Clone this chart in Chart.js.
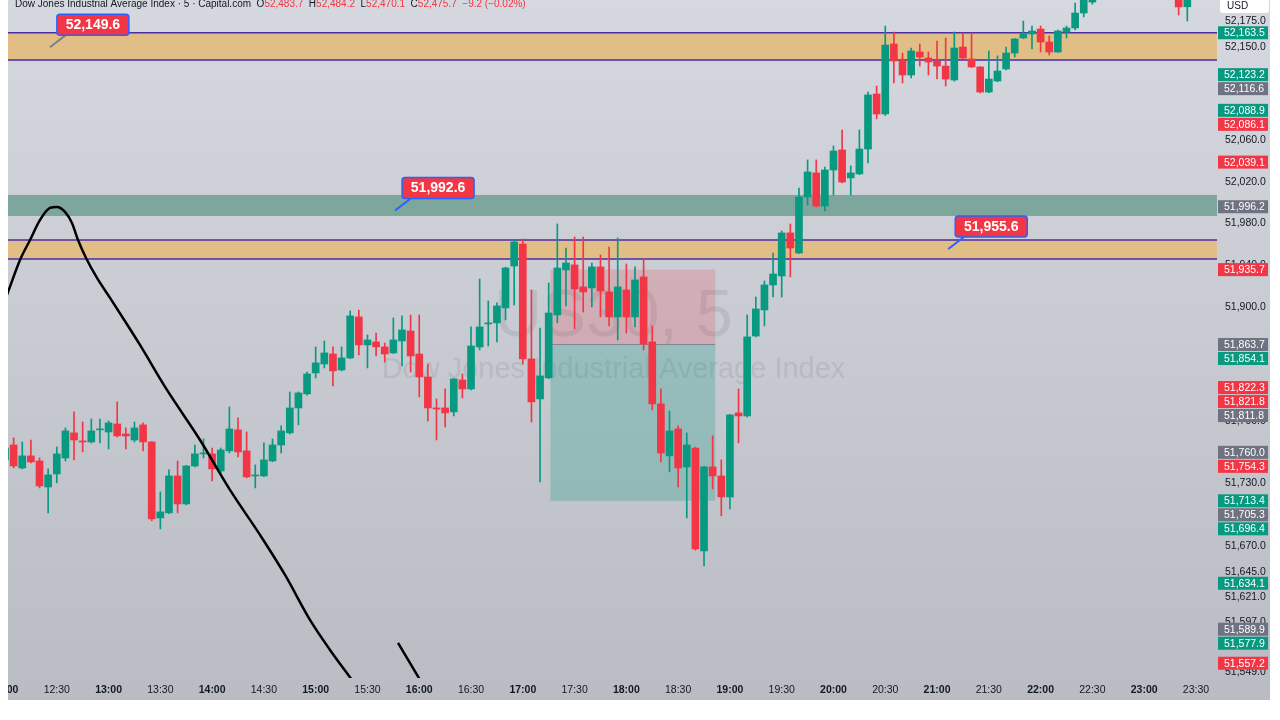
<!DOCTYPE html>
<html lang="en">
<head>
<meta charset="UTF-8">
<title>US30, 5 - Dow Jones Industrial Average Index</title>
<script src="https://cdn.jsdelivr.net/npm/chart.js@4.4.1/dist/chart.umd.min.js"></script>
<style>
  html, body { margin: 0; padding: 0; background: #fff; }
  #wrap { width: 1280px; height: 720px; position: relative; }
</style>
</head>
<body>
<div id="wrap"><canvas id="chart"></canvas></div>
<script>
// 5 minute candles, 12:00 .. 23:25
const opens = [
  51752.7, 51767.1, 51745.0, 51756.6, 51751.7, 51726.7, 51739.2, 51754.6, 51778.7, 51771.0,
  51770.0, 51781.6, 51779.6, 51787.3, 51777.7, 51771.9, 51786.4, 51770.0, 51696.9, 51701.8,
  51737.3, 51710.4, 51746.9, 51758.5, 51758.5, 51742.1, 51761.4, 51781.6, 51761.4, 51737.3,
  51737.3, 51751.7, 51767.1, 51778.7, 51802.7, 51816.2, 51836.4, 51845.0, 51854.6, 51839.2,
  51850.8, 51890.2, 51863.3, 51866.2, 51861.4, 51855.6, 51867.1, 51876.7, 51854.6, 51832.5,
  51802.7, 51802.7, 51798.9, 51829.6, 51821.0, 51861.4, 51883.5, 51884.5, 51898.9, 51939.2,
  51960.4, 51849.8, 51811.4, 51831.6, 51892.1, 51935.4, 51940.2, 51919.1, 51918.1, 51938.3,
  51914.2, 51890.2, 51916.2, 51890.2, 51928.7, 51866.2, 51806.6, 51756.6, 51782.5, 51746.0,
  51764.2, 51665.2, 51746.0, 51737.3, 51717.1, 51797.9, 51795.0, 51871.9, 51896.9, 51921.0,
  51929.6, 51971.0, 51951.7, 52005.6, 52028.7, 51996.9, 52031.5, 52050.8, 52023.9, 52027.7,
  52051.7, 52104.6, 52085.4, 52152.7, 52137.3, 52122.9, 52145.0, 52139.2, 52136.3, 52131.5,
  52118.1, 52149.8, 52138.3, 52130.6, 52106.5, 52117.1, 52128.7, 52144.0, 52158.5, 52162.3,
  52167.1, 52154.6, 52145.0, 52164.2, 52168.1, 52182.5, 52193.0, 52215.0, 52224.0, 52232.0,
  52226.0, 52230.0, 52238.0, 52230.0, 52222.0, 52218.0, 52215.0, 52188.5
];
const highs = [
  51771.9, 51773.9, 51770.0, 51771.9, 51754.6, 51744.1, 51765.2, 51783.5, 51798.9, 51789.2,
  51792.1, 51792.1, 51790.2, 51808.5, 51783.5, 51789.2, 51788.3, 51770.5, 51721.9, 51743.1,
  51751.7, 51747.5, 51767.1, 51772.9, 51764.2, 51764.2, 51803.7, 51793.1, 51779.6, 51747.9,
  51769.1, 51772.9, 51785.4, 51818.1, 51818.1, 51837.3, 51861.4, 51867.1, 51861.4, 51861.4,
  51896.0, 51896.9, 51872.9, 51874.8, 51865.2, 51889.2, 51891.2, 51892.1, 51892.1, 51845.0,
  51811.4, 51821.0, 51831.0, 51835.4, 51880.6, 51926.7, 51905.6, 51903.7, 51938.0, 51964.2,
  51965.2, 51916.2, 51879.6, 51922.9, 51979.6, 51956.5, 51967.1, 51967.1, 51942.1, 51949.8,
  51957.5, 51966.2, 51941.2, 51938.3, 51946.0, 51881.6, 51821.0, 51799.8, 51785.4, 51778.7,
  51765.0, 51746.5, 51775.8, 51752.7, 51796.5, 51821.0, 51892.1, 51909.4, 51924.8, 51951.7,
  51972.9, 51979.6, 52014.2, 52041.2, 52041.2, 52034.4, 52054.6, 52070.0, 52035.4, 52070.0,
  52106.5, 52112.3, 52170.0, 52164.2, 52144.0, 52148.8, 52152.7, 52145.0, 52155.6, 52158.5,
  52164.2, 52163.3, 52163.3, 52131.0, 52146.0, 52141.2, 52149.8, 52158.0, 52174.8, 52170.0,
  52170.0, 52160.4, 52166.0, 52170.0, 52192.1, 52205.0, 52222.0, 52230.0, 52238.0, 52240.0,
  52236.0, 52244.0, 52246.0, 52236.0, 52230.0, 52226.0, 52222.0, 52212.0
];
const lows = [
  51747.9, 51745.0, 51744.1, 51749.8, 51725.8, 51701.8, 51730.6, 51751.7, 51752.7, 51760.4,
  51769.0, 51769.1, 51763.3, 51774.8, 51763.3, 51770.0, 51761.4, 51694.1, 51686.4, 51701.0,
  51701.8, 51709.5, 51746.0, 51754.6, 51732.5, 51740.2, 51759.4, 51755.6, 51735.5, 51725.8,
  51736.5, 51751.0, 51759.4, 51777.7, 51786.4, 51815.0, 51831.6, 51841.2, 51823.9, 51838.3,
  51850.0, 51853.7, 51841.2, 51852.7, 51846.9, 51855.0, 51843.1, 51837.3, 51813.3, 51790.2,
  51771.9, 51784.4, 51795.0, 51812.3, 51820.0, 51858.5, 51862.3, 51866.2, 51887.3, 51901.7,
  51845.0, 51789.2, 51731.6, 51831.0, 51884.5, 51900.8, 51878.7, 51895.0, 51899.8, 51890.2,
  51881.6, 51868.1, 51874.8, 51880.6, 51858.5, 51800.8, 51750.8, 51741.2, 51726.7, 51697.0,
  51666.0, 51650.8, 51724.8, 51698.9, 51705.6, 51769.1, 51794.0, 51871.0, 51881.6, 51909.4,
  51909.4, 51928.7, 51951.0, 51997.9, 51996.0, 51992.1, 52007.5, 52019.0, 52007.5, 52027.0,
  52038.3, 52080.6, 52084.0, 52115.2, 52115.2, 52120.0, 52131.5, 52122.9, 52119.0, 52112.3,
  52117.0, 52138.5, 52130.0, 52105.6, 52105.8, 52116.5, 52127.7, 52140.2, 52158.0, 52147.9,
  52145.0, 52142.1, 52144.5, 52158.5, 52166.2, 52178.7, 52191.0, 52208.0, 52218.0, 52220.0,
  52219.0, 52225.0, 52226.0, 52214.0, 52210.0, 52205.0, 52180.6, 52174.8
];
const closes = [
  51764.2, 51746.9, 51756.6, 51750.8, 51727.7, 51738.3, 51758.5, 51780.6, 51771.9, 51770.0,
  51780.6, 51782.0, 51788.3, 51775.8, 51775.8, 51783.5, 51770.0, 51696.0, 51702.7, 51737.3,
  51710.4, 51746.9, 51758.5, 51759.0, 51744.1, 51762.3, 51782.5, 51760.4, 51736.4, 51737.8,
  51752.7, 51767.1, 51780.6, 51802.7, 51817.1, 51835.4, 51846.0, 51855.6, 51838.3, 51850.8,
  51891.2, 51863.3, 51868.1, 51861.4, 51854.6, 51868.1, 51877.7, 51852.7, 51832.5, 51802.7,
  51801.7, 51797.9, 51830.6, 51821.0, 51862.3, 51880.6, 51884.5, 51900.8, 51937.3, 51962.3,
  51849.8, 51808.5, 51833.5, 51894.0, 51937.3, 51942.1, 51917.1, 51914.2, 51938.3, 51915.2,
  51890.2, 51919.1, 51890.2, 51925.8, 51864.2, 51806.6, 51759.4, 51780.6, 51745.0, 51767.1,
  51667.1, 51746.0, 51737.3, 51717.1, 51796.0, 51795.0, 51871.0, 51897.9, 51921.0, 51931.5,
  51971.0, 51956.5, 52005.6, 52029.6, 51996.9, 52031.5, 52049.8, 52020.0, 52028.7, 52051.7,
  52103.7, 52085.4, 52151.7, 52136.3, 52122.9, 52146.0, 52140.2, 52135.4, 52131.5, 52119.0,
  52148.8, 52139.2, 52130.6, 52106.5, 52119.0, 52126.7, 52144.0, 52157.5, 52162.3, 52165.2,
  52154.6, 52145.0, 52165.2, 52168.1, 52182.5, 52198.0, 52215.0, 52224.0, 52232.0, 52226.0,
  52230.0, 52238.0, 52230.0, 52222.0, 52218.0, 52215.0, 52188.3, 52205.0
];

// time axis: one label every 6 candles
const xTickLabels = ['12:00', '12:30', '13:00', '13:30', '14:00', '14:30', '15:00', '15:30',
  '16:00', '16:30', '17:00', '17:30', '18:00', '18:30', '19:00', '19:30', '20:00', '20:30',
  '21:00', '21:30', '22:00', '22:30', '23:00', '23:30'];
const candlesPerTick = 6;

// price axis
const yTickValues = [52175, 52150, 52060, 52020, 51980, 51940, 51900, 51790, 51730,
  51670, 51645, 51621, 51597, 51549];
const axisLabelValues = [52163.5, 52123.2, 52116.6, 52088.9, 52086.1, 52039.1, 51996.2,
  51935.7, 51863.7, 51854.1, 51822.3, 51821.8, 51811.8, 51760.0, 51754.3, 51713.4, 51705.3,
  51696.4, 51634.1, 51589.9, 51577.9, 51557.2];
const axisLabelKinds = ['up', 'up', 'flat', 'up', 'down', 'down', 'flat', 'down', 'flat',
  'up', 'down', 'down', 'flat', 'flat', 'down', 'up', 'flat', 'up', 'up', 'flat', 'up', 'down'];

// zones (top, bottom)
const zoneTops = [52163.5, 52007.5, 51964.2];
const zoneBottoms = [52137.3, 51987.3, 51946.0];

// price tags: anchor candle position and price
const tagValues = [52149.6, 51992.6, 51955.6];
const tagIndexes = [5.2, 45.2, 109.3];

// long position tool: stop, entry, target
const positionStart = 63.2, positionEnd = 82.3;
const positionStop = 51935.7, positionEntry = 51863.7, positionTarget = 51713.4;

// black curve (drawing)
const curveX = [-0.6, 0.35, 1.74, 2.9, 4.06, 5.21, 6.03, 6.95, 7.76, 8.46, 9.39, 10.66,
  12.17, 13.67, 15.64, 18.77, 22.6, 26.07, 29.55, 32.45, 35.34, 37.66, 40.2, 41.0];
const curveY = [51893, 51914.2, 51945.0, 51964.2, 51983.5, 51995.0, 51996.0, 51991.2,
  51980.6, 51964.2, 51946.9, 51927.7, 51908.5, 51889.2, 51863.3, 51820.0, 51771.9, 51723.9,
  51680.6, 51642.1, 51598.9, 51570.0, 51541.2, 51532];
const curve2X = [45.54, 48.09, 48.7];
const curve2Y = [51576.8, 51541.2, 51533];

const headerParts = [
  ['Dow Jones Industrial Average Index \u00b7 5 \u00b7 Capital.com', 'dark'],
  ['  O', 'dark'], ['52,483.7', 'down'], ['  H', 'dark'], ['52,484.2', 'down'],
  ['  L', 'dark'], ['52,470.1', 'down'], ['  C', 'dark'], ['52,475.7', 'down'],
  ['  \u22129.2 (\u22120.02%)', 'down']
];

const GREEN = '#089981';
const RED = '#f23645';
const GRAY = '#6f7280';
const kindColor = { up: GREEN, down: RED, flat: GRAY, dark: '#131722' };
const FONT = '"Liberation Sans", Arial, sans-serif';

const idx = opens.map((_, i) => i);
const candleColors = idx.map(i => closes[i] >= opens[i] ? GREEN : RED);
const fmt = v => v.toLocaleString('en-US', { minimumFractionDigits: 1, maximumFractionDigits: 1 });

const chartPaint = {
  id: 'chartPaint',
  beforeDraw(chart) {
    const ctx = chart.ctx;
    ctx.save();
    ctx.fillStyle = '#ffffff';
    ctx.fillRect(0, 0, chart.width, chart.height);
    const g = ctx.createLinearGradient(0, 0, 0, 700);
    g.addColorStop(0, '#d5d8de');
    g.addColorStop(1, '#b9bcc3');
    ctx.fillStyle = g;
    ctx.fillRect(8, 0, 1262, 700);
    ctx.restore();
  },
  beforeDatasetsDraw(chart) {
    const { ctx, chartArea: a, scales: { x, y } } = chart;
    ctx.save();
    ctx.beginPath();
    ctx.rect(a.left, a.top, a.right - a.left, a.bottom - a.top);
    ctx.clip();

    // watermark
    const cx = (a.left + a.right) / 2 + 5;
    const cy = (a.top + a.bottom) / 2;
    ctx.fillStyle = 'rgba(95,100,115,0.15)';
    ctx.textAlign = 'center';
    ctx.textBaseline = 'middle';
    ctx.font = '66px ' + FONT;
    ctx.fillText('US30, 5', cx, cy - 21);
    ctx.font = '29px ' + FONT;
    ctx.fillText('Dow Jones Industrial Average Index', cx, cy + 31);

    // zones
    const zoneFill = ['#e2be87', '#7da69d', '#e2be87'];
    const zoneEdge = [true, false, true];
    zoneTops.forEach((top, i) => {
      const y1 = y.getPixelForValue(top), y2 = y.getPixelForValue(zoneBottoms[i]);
      ctx.fillStyle = zoneFill[i];
      ctx.fillRect(8, y1, a.right - 8, y2 - y1);
      if (zoneEdge[i]) {
        ctx.strokeStyle = '#4b2ea6';
        ctx.lineWidth = 1.5;
        ctx.beginPath();
        ctx.moveTo(8, y1); ctx.lineTo(a.right, y1);
        ctx.moveTo(8, y2); ctx.lineTo(a.right, y2);
        ctx.stroke();
      }
    });

    // position tool
    const px1 = x.getPixelForValue(positionStart), px2 = x.getPixelForValue(positionEnd);
    const ys = y.getPixelForValue(positionStop);
    const ye = y.getPixelForValue(positionEntry);
    const yt = y.getPixelForValue(positionTarget);
    ctx.fillStyle = 'rgba(242,54,69,0.2)';
    ctx.fillRect(px1, ys, px2 - px1, ye - ys);
    ctx.fillStyle = 'rgba(8,153,129,0.25)';
    ctx.fillRect(px1, ye, px2 - px1, yt - ye);
    ctx.strokeStyle = 'rgba(120,123,134,0.8)';
    ctx.lineWidth = 1;
    ctx.beginPath();
    ctx.moveTo(px1, ye); ctx.lineTo(px2, ye);
    ctx.stroke();
    ctx.restore();
  },
  afterDraw(chart) {
    const { ctx, chartArea: a, scales: { x, y } } = chart;
    ctx.save();
    ctx.fillStyle = '#ffffff';
    ctx.fillRect(0, 0, 8, chart.height);

    // price labels on the axis, pushed apart when they overlap
    const order = axisLabelValues.map((v, i) => i).sort((p, q) => axisLabelValues[q] - axisLabelValues[p]);
    let prev = -100;
    ctx.font = '10.5px ' + FONT;
    ctx.textAlign = 'left';
    ctx.textBaseline = 'middle';
    order.forEach(i => {
      let py = Math.max(y.getPixelForValue(axisLabelValues[i]), prev + 14);
      prev = py;
      ctx.fillStyle = kindColor[axisLabelKinds[i]];
      ctx.fillRect(a.right + 1, py - 6.5, 50, 13);
      ctx.fillStyle = '#ffffff';
      ctx.fillText(fmt(axisLabelValues[i]), a.right + 7, py + 0.5);
    });

    // currency box
    ctx.fillStyle = '#ffffff';
    ctx.beginPath();
    ctx.roundRect(a.right + 3, -4, 49, 17, 3);
    ctx.fill();
    ctx.fillStyle = '#131722';
    ctx.font = '10px ' + FONT;
    ctx.fillText('USD', a.right + 10, 6);

    // price tags
    tagValues.forEach((v, i) => {
      const ax = x.getPixelForValue(tagIndexes[i]);
      const ay = y.getPixelForValue(v);
      ctx.strokeStyle = i === 0 ? '#7b7f8c' : '#2962ff';
      ctx.lineWidth = 2;
      ctx.beginPath();
      ctx.moveTo(ax, ay);
      ctx.lineTo(ax + 17, ay - 13);
      ctx.stroke();
      ctx.fillStyle = RED;
      ctx.strokeStyle = '#2962ff';
      ctx.lineWidth = 1.5;
      ctx.beginPath();
      ctx.roundRect(ax + 7, ay - 33, 72, 21, 3);
      ctx.fill();
      ctx.stroke();
      ctx.fillStyle = '#ffffff';
      ctx.font = 'bold 14px ' + FONT;
      ctx.textAlign = 'center';
      ctx.fillText(fmt(v), ax + 43, ay - 22);
      ctx.textAlign = 'left';
    });

    // header line
    ctx.font = '10px ' + FONT;
    ctx.textBaseline = 'alphabetic';
    let hx = 15;
    headerParts.forEach(([t, k]) => {
      ctx.fillStyle = kindColor[k];
      ctx.fillText(t, hx, 7);
      hx += ctx.measureText(t).width;
    });
    ctx.restore();
  }
};

new Chart(document.getElementById('chart'), {
  type: 'bar',
  data: {
    datasets: [
      {
        type: 'line',
        data: curveX.map((v, i) => ({ x: v, y: curveY[i] })),
        borderColor: '#000000',
        borderWidth: 2.5,
        pointRadius: 0,
        cubicInterpolationMode: 'monotone',
        clip: 0,
        order: 0
      },
      {
        type: 'line',
        data: curve2X.map((v, i) => ({ x: v, y: curve2Y[i] })),
        borderColor: '#000000',
        borderWidth: 2.5,
        pointRadius: 0,
        clip: 0,
        order: 0
      },
      {
        data: idx.map(i => ({ x: i, y: [opens[i], closes[i]] })),
        backgroundColor: candleColors,
        barThickness: 7,
        minBarLength: 1,
        grouped: false,
        borderSkipped: false,
        clip: 0,
        order: 1
      },
      {
        data: idx.map(i => ({ x: i, y: [lows[i], highs[i]] })),
        backgroundColor: candleColors,
        barThickness: 1,
        grouped: false,
        borderSkipped: false,
        clip: 0,
        order: 2
      }
    ]
  },
  options: {
    responsive: true,
    maintainAspectRatio: false,
    animation: false,
    events: [],
    layout: { padding: 0 },
    plugins: { legend: { display: false }, tooltip: { enabled: false } },
    scales: {
      x: {
        type: 'linear',
        min: -0.58,
        max: 140.44,
        offset: false,
        grid: { display: false, drawTicks: false },
        border: { display: false },
        afterBuildTicks: scale => {
          scale.ticks = xTickLabels.map((_, k) => ({ value: k * candlesPerTick }));
        },
        afterFit: scale => {
          scale.height = 42;
          scale.paddingLeft = 0;
          scale.paddingRight = 0;
        },
        ticks: {
          autoSkip: false,
          maxRotation: 0,
          padding: 6,
          color: '#131722',
          font: ctx => ({
            family: FONT,
            size: 10.5,
            weight: ctx.tick && ctx.tick.value % (candlesPerTick * 2) === 0 ? 'bold' : 'normal'
          }),
          callback: v => xTickLabels[Math.round(v / candlesPerTick)]
        }
      },
      y: {
        position: 'right',
        min: 51543,
        max: 52195,
        grid: { display: false, drawTicks: false },
        border: { display: false },
        afterBuildTicks: scale => {
          scale.ticks = yTickValues.map(v => ({ value: v }));
        },
        afterFit: scale => {
          scale.width = 63;
          scale.paddingTop = 0;
          scale.paddingBottom = 0;
        },
        ticks: {
          autoSkip: false,
          padding: 8,
          color: '#131722',
          font: { family: FONT, size: 10.5 },
          callback: v => fmt(v)
        }
      }
    }
  },
  plugins: [chartPaint]
});
</script>
</body>
</html>
